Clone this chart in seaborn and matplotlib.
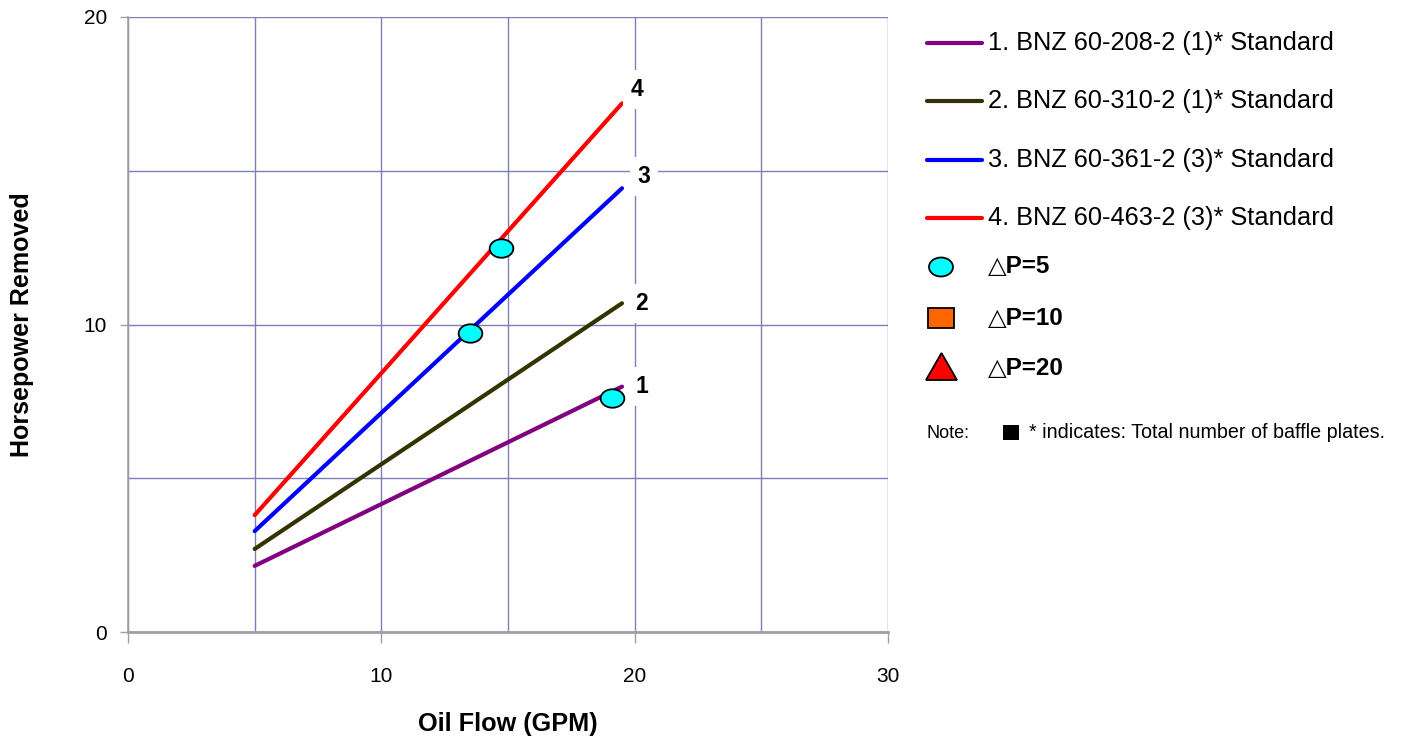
import numpy as np
import pandas as pd
import matplotlib
matplotlib.use("Agg")
import matplotlib.pyplot as plt
import seaborn as sns
from matplotlib.path import Path
from matplotlib.markers import MarkerStyle
from matplotlib.lines import Line2D
from matplotlib.patches import Ellipse, Rectangle, Polygon

# ---------------- data ----------------
series_names = ["1. BNZ 60-208-2 (1)* Standard",
                "2. BNZ 60-310-2 (1)* Standard",
                "3. BNZ 60-361-2 (3)* Standard",
                "4. BNZ 60-463-2 (3)* Standard"]
series_ids = ["1", "2", "3", "4"]
flow_start = [5.0, 5.0, 5.0, 5.0]
flow_end = [19.5, 19.5, 19.5, 19.5]
hp_start = [2.15, 2.70, 3.28, 3.80]
hp_end = [7.98, 10.69, 14.43, 17.19]

dp5_flow = [19.09, 13.5, 14.71]
dp5_hp = [7.60, 9.71, 12.48]

marker_labels = ["\u25b3P=5", "\u25b3P=10", "\u25b3P=20"]
note_label = "Note:"
note_text = "* indicates: Total number of baffle plates."
x_ticks = [0, 10, 20, 30]
y_ticks = [0, 10, 20]

# ---------------- style ----------------
colors = ["#800080", "#333300", "#0000ff", "#ff0000"]
label_offsets_px = [(20, 0), (20, 0), (22, 12), (15, 14)]

sns.set_style("white")
plt.rcParams['font.family'] = ['Liberation Sans', 'DejaVu Sans']
plt.rcParams['text.color'] = 'black'
plt.rcParams['axes.labelcolor'] = 'black'
plt.rcParams['xtick.color'] = 'black'
plt.rcParams['ytick.color'] = 'black'

W, H = 1401, 736
fig = plt.figure(figsize=(W / 100, H / 100), dpi=100)
ax = fig.add_axes([128 / W, 1 - 632 / H, 760 / W, 615 / H])

rows = []
for name, xs, xe, ys, ye in zip(series_names, flow_start, flow_end, hp_start, hp_end):
    rows.append({"series": name, "flow": xs, "hp": ys})
    rows.append({"series": name, "flow": xe, "hp": ye})
df = pd.DataFrame(rows)

sns.lineplot(data=df, x="flow", y="hp", hue="series", palette=colors,
             linewidth=3.0, legend=False, ax=ax, solid_capstyle="round", zorder=3)

# ellipse marker
circ = Path.unit_circle()
verts = circ.vertices.copy()
verts[:, 1] *= 0.78
ell_path = Path(verts, circ.codes)
dfm = pd.DataFrame({"flow": dp5_flow, "hp": dp5_hp})
sns.scatterplot(data=dfm, x="flow", y="hp", marker=MarkerStyle(ell_path), s=290,
                color="#00ffff", edgecolor="black", linewidth=1.3, ax=ax, zorder=4)

# number labels
for sid, xe, ye, (dx, dy) in zip(series_ids, flow_end, hp_end, label_offsets_px):
    ax.annotate(sid, xy=(xe, ye), xytext=(dx * 0.72, dy * 0.72), textcoords="offset points",
                ha="center", va="center", fontsize=16.5, fontweight="bold", color="black",
                bbox=dict(boxstyle="square,pad=0.35", fc="white", ec="none"), zorder=5)

ax.set_xlim(0, 30)
ax.set_ylim(0, 20)
ax.set_xticks(x_ticks)
ax.set_yticks(y_ticks)
ax.set_xticks([5, 15, 25], minor=True)
ax.set_yticks([5, 15], minor=True)
ax.grid(True, which="both", color="#7f7fb8", linewidth=1.0, zorder=0)
ax.set_axisbelow(True)
ax.tick_params(axis="x", which="major", length=8, width=1, color="#a0a0a0",
               pad=17, labelsize=15, labelcolor="black", direction="out", bottom=True)
ax.tick_params(axis="y", which="major", length=6, width=1, color="#a0a0a0",
               pad=9, labelsize=15, labelcolor="black", direction="out", left=True)
ax.tick_params(which="minor", length=0)
for s in ["top", "right"]:
    ax.spines[s].set_visible(False)
ax.spines["bottom"].set_color("#a0a0a0")
ax.spines["bottom"].set_linewidth(2)
ax.spines["left"].set_color("#a0a0a0")
ax.spines["left"].set_linewidth(1.2)

ax.set_xlabel("Oil Flow (GPM)", fontsize=18.2, fontweight="bold", labelpad=19)
ax.set_ylabel("Horsepower Removed", fontsize=18, fontweight="bold", labelpad=36)

# ---------------- legend (manual, figure coords) ----------------
def fx(x):
    return x / W

def fy(y):
    return 1 - y / H

row_y = [43, 101, 160, 218]
for name, c, yy in zip(series_names, colors, row_y):
    fig.add_artist(Line2D([fx(927), fx(982)], [fy(yy), fy(yy)], color=c, linewidth=3.0,
                          solid_capstyle="round", transform=fig.transFigure))
    fig.text(fx(988), fy(yy), name, fontsize=18.3, va="center", ha="left")

mk_y = [267, 318, 368]
fig.add_artist(Ellipse((fx(941), fy(267)), 24 / W, 19 / H, facecolor="#00ffff",
                       edgecolor="black", linewidth=1.3, transform=fig.transFigure))
fig.add_artist(Rectangle((fx(928), fy(328)), 26 / W, 20 / H, facecolor="#ff6600",
                         edgecolor="black", linewidth=1.3, transform=fig.transFigure))
fig.add_artist(Polygon([(fx(926), fy(380)), (fx(957), fy(380)), (fx(941.5), fy(353))],
                       closed=True, facecolor="#ff0000", edgecolor="black", linewidth=1.3,
                       transform=fig.transFigure))
for lab, yy in zip(marker_labels, mk_y):
    fig.text(fx(988), fy(yy), lab, fontsize=17.5, fontweight="bold", va="center", ha="left",
             family=['Liberation Sans', 'DejaVu Sans'])

fig.text(fx(927), fy(433), note_label, fontsize=13, va="center", ha="left")
fig.add_artist(Rectangle((fx(1003), fy(440)), 16 / W, 15 / H, facecolor="black",
                         edgecolor="none", transform=fig.transFigure))
fig.text(fx(1029), fy(433), note_text, fontsize=14.2, va="center", ha="left")

fig.savefig("out.png", dpi=100)
